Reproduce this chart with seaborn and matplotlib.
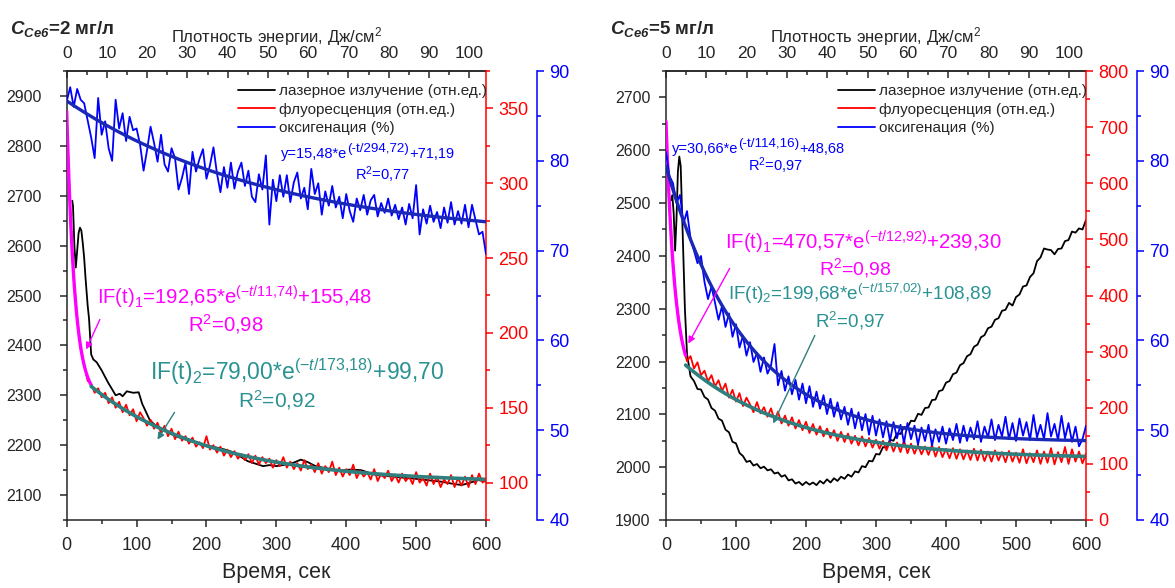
import numpy as np
import matplotlib
matplotlib.use("Agg")
import matplotlib.pyplot as plt
from matplotlib.ticker import MultipleLocator
from matplotlib.patches import FancyArrowPatch
import seaborn as sns

sns.set_theme(style="ticks")
plt.rcParams.update({
    "font.family": ["Liberation Sans", "DejaVu Sans"],
    "mathtext.fontset": "custom",
    "mathtext.rm": "Liberation Sans",
    "mathtext.it": "Liberation Sans:italic",
    "mathtext.bf": "Liberation Sans:italic:bold",
    "axes.linewidth": 1.1,
})

# ---------------------------------------------------------------- data
# common time grid for fluorescence and oxygenation records, s
TIME = np.arange(0, 601, 5)
# energy density delivered per second of irradiation, J/cm^2
E_PER_SEC = 100 / 576

# C(Ce6) = 2 mg/l
LASER_T_2 = [8, 9, 11, 13, 15, 17, 19, 21, 23, 25,
             27, 30, 32, 35, 38, 43, 50, 59, 65, 70,
             76, 80, 86, 95, 103, 108, 113, 119, 125, 132,
             140, 150, 160, 173, 185, 195, 205, 215, 227, 240,
             250, 259, 270, 281, 290, 300, 313, 325, 335, 345,
             356, 370, 389, 405, 421, 443, 460, 480, 497, 515,
             535, 551, 565, 573, 580, 589, 600]
LASER_V_2 = [2690, 2680, 2600, 2556, 2590, 2625, 2636, 2630, 2605, 2575,
             2534, 2480, 2453, 2382, 2372, 2366, 2350, 2326, 2312, 2300,
             2303, 2298, 2308, 2305, 2306, 2283, 2268, 2250, 2242, 2236,
             2230, 2222, 2216, 2210, 2205, 2200, 2198, 2195, 2191, 2185,
             2176, 2168, 2163, 2158, 2160, 2158, 2161, 2165, 2171, 2166,
             2158, 2154, 2149, 2151, 2150, 2140, 2138, 2135, 2133, 2130,
             2127, 2123, 2120, 2123, 2126, 2130, 2127]
FLUO_2 = [346, 282, 236, 210, 189, 179, 168, 166, 160, 163,
          157, 160, 153, 157, 150, 154, 147, 152, 145, 149,
          141, 147, 143, 138, 142, 136, 140, 133, 138, 131,
          136, 129, 134, 128, 131, 126, 130, 124, 127, 123,
          131, 122, 125, 120, 124, 118, 122, 117, 121, 116,
          119, 115, 119, 113, 118, 112, 117, 113, 116, 110,
          115, 111, 117, 110, 114, 109, 113, 108, 115, 109,
          112, 107, 113, 106, 111, 107, 114, 105, 110, 104,
          109, 105, 112, 103, 108, 104, 107, 102, 109, 101,
          106, 103, 108, 101, 105, 100, 106, 101, 104, 99,
          107, 100, 103, 98, 106, 99, 104, 97, 102, 99,
          105, 97, 103, 98, 104, 97, 105, 99, 106, 100,
          102]
OXY_2 = [86.6, 88.2, 86.0, 88.0, 86.8, 86.4, 84.5, 82.6, 80.3, 87.0,
         82.9, 84.4, 81.4, 80.0, 86.8, 83.6, 85.3, 82.2, 84.9, 83.4,
         83.6, 81.8, 78.9, 81.2, 83.8, 82.0, 79.9, 82.9, 79.6, 78.8,
         81.4, 80.3, 76.8, 78.1, 79.8, 76.3, 81.0, 78.8, 80.2, 81.3,
         78.0, 79.5, 81.5, 78.6, 76.5, 79.3, 77.0, 79.8, 76.9, 78.8,
         79.8, 77.2, 78.9, 76.0, 75.4, 78.5, 76.8, 80.6, 72.9, 77.9,
         75.5, 78.4, 76.0, 78.4, 75.4, 77.6, 78.7, 75.8, 77.0, 74.6,
         79.1, 76.3, 77.5, 74.0, 76.6, 75.0, 77.2, 74.8, 76.0, 73.6,
         76.3, 74.4, 73.2, 75.8, 74.5, 76.2, 74.0, 75.6, 76.2, 73.8,
         75.3, 74.2, 75.8, 73.9, 75.1, 73.5, 74.8, 72.9, 75.2, 73.6,
         77.3, 71.8, 74.6, 73.0, 75.0, 73.2, 74.3, 72.5, 74.8, 73.1,
         75.4, 72.9, 74.4, 73.0, 75.1, 72.6, 75.1, 73.4, 71.8, 72.1,
         69.6]

# C(Ce6) = 5 mg/l
LASER_T_5 = [7, 9, 11, 13, 15, 17, 19, 21, 23, 25, 27] + list(range(30, 601, 5))
LASER_V_5 = [2505, 2515, 2480, 2410, 2470, 2560, 2588, 2570, 2480, 2390, 2300,
             2215, 2172, 2163, 2148, 2147, 2133, 2128, 2112, 2107, 2092,
             2088, 2071, 2066, 2048, 2045, 2027, 2021, 2010, 2012, 2003,
             2006, 1998, 2001, 1994, 1996, 1988, 1990, 1982, 1985, 1975,
             1977, 1969, 1972, 1966, 1972, 1967, 1971, 1966, 1974, 1969,
             1977, 1971, 1979, 1974, 1982, 1978, 1986, 1982, 1992, 1990,
             2002, 2000, 2012, 2011, 2025, 2024, 2038, 2037, 2052, 2050,
             2064, 2063, 2076, 2075, 2088, 2087, 2101, 2099, 2112, 2113,
             2127, 2128, 2144, 2146, 2160, 2163, 2176, 2179, 2193, 2197,
             2210, 2214, 2228, 2232, 2246, 2250, 2263, 2266, 2279, 2282,
             2296, 2298, 2311, 2306, 2322, 2327, 2342, 2344, 2360, 2367,
             2390, 2397, 2414, 2412, 2411, 2403, 2413, 2414, 2428, 2430,
             2446, 2444, 2452, 2450, 2468]
FLUO_5 = [705, 560, 455, 388, 340, 305, 283, 292, 270, 281,
          258, 266, 247, 258, 238, 249, 230, 243, 218, 232,
          211, 226, 203, 218, 206, 192, 210, 190, 201, 184,
          199, 178, 193, 172, 186, 168, 183, 163, 178, 160,
          175, 155, 171, 152, 167, 149, 163, 146, 160, 141,
          157, 139, 154, 136, 150, 133, 149, 131, 146, 129,
          143, 127, 141, 124, 140, 122, 138, 121, 142, 119,
          136, 118, 133, 117, 131, 116, 134, 113, 130, 112,
          127, 110, 128, 109, 126, 108, 124, 107, 127, 106,
          125, 105, 122, 104, 124, 106, 121, 103, 123, 104,
          120, 102, 126, 101, 119, 103, 124, 100, 122, 102,
          128, 99, 121, 103, 130, 100, 126, 104, 122, 101,
          118]
OXY_5 = [81.0, 78.3, 77.5, 75.3, 76.2, 73.0, 74.4, 71.4, 70.0, 68.6,
         69.4, 66.5, 64.6, 66.0, 64.2, 62.3, 63.8, 61.5, 63.0, 60.4,
         61.8, 59.2, 60.5, 58.3, 59.8, 57.6, 58.6, 56.5, 58.1, 56.3,
         57.2, 59.6, 55.0, 56.6, 54.4, 56.0, 54.0, 55.6, 53.4, 55.2,
         53.0, 54.9, 52.6, 54.3, 52.4, 53.9, 51.8, 53.5, 51.5, 53.1,
         51.2, 52.6, 50.6, 52.4, 50.2, 52.0, 50.0, 51.8, 49.5, 51.6,
         49.4, 51.2, 49.2, 51.0, 48.8, 50.9, 49.1, 50.6, 48.6, 50.8,
         49.0, 50.5, 48.4, 50.3, 48.8, 50.6, 48.3, 50.1, 48.7, 50.4,
         48.5, 50.2, 48.9, 50.7, 48.6, 50.5, 48.8, 50.3, 49.0, 51.0,
         48.7, 50.4, 49.2, 51.2, 48.9, 50.6, 49.3, 51.5, 49.0, 50.8,
         48.8, 51.3, 49.4, 50.9, 48.9, 51.7, 49.2, 50.6, 49.0, 51.9,
         49.3, 50.7, 48.9, 51.6, 49.1, 50.8, 48.7, 50.4, 48.2, 49.0,
         50.5]

# exponential fits: (amplitude, tau, offset)
FIT_IF1_2, FIT_IF2_2, FIT_OXY_2 = (192.65, 11.74, 155.48), (79.00, 173.18, 99.70), (15.48, 294.72, 71.19)
FIT_IF1_5, FIT_IF2_5, FIT_OXY_5 = (470.57, 12.92, 239.30), (199.68, 157.02, 108.89), (30.66, 114.16, 48.68)
SWITCH_2, SWITCH_5 = 35, 28   # boundary between the fast and slow fluorescence fits, s

LEGEND = ["лазерное излучение (отн.ед.)", "флуоресценция (отн.ед.)", "оксигенация (%)"]

# ---------------------------------------------------------------- styling
W, H = 1175, 588
BLACK, RED, BLUE = "#000000", "#ff0000", "#0000ff"
MAGENTA, TEAL, TEAL_TXT, BLUE_FIT = "#ff00ff", "#2f7f7f", "#2a9292", "#1a28b8"

fig = plt.figure(figsize=(W / 100, H / 100), dpi=100)
renderer = fig.canvas.get_renderer()


def fxy(px, py):
    """Pixel position measured from the top-left corner -> figure fraction."""
    return px / W, 1 - py / H


def expfit(t, p):
    a, tau, c = p
    return a * np.exp(-t / tau) + c


def build_panel(rect, laser_t, laser_v, fluo, oxy, fit1, fit2, fitoxy, t_switch,
                left_lim, red_lim, red_major, red_minor, left_pad):
    ax = fig.add_axes(rect)
    ax_r = ax.twinx()
    ax_b = ax.twinx()

    sns.lineplot(x=laser_t, y=laser_v, ax=ax, color=BLACK, lw=1.3, label=LEGEND[0], legend=False)
    sns.lineplot(x=TIME, y=fluo, ax=ax_r, color=RED, lw=1.3, label=LEGEND[1], legend=False)
    t1 = np.linspace(0, t_switch, 80)
    t2 = np.linspace(t_switch, 600, 300)
    sns.lineplot(x=t1, y=expfit(t1, fit1), ax=ax_r, color=MAGENTA, lw=2.4, legend=False)
    sns.lineplot(x=t2, y=expfit(t2, fit2), ax=ax_r, color=TEAL, lw=2.6, legend=False)
    sns.lineplot(x=TIME, y=oxy, ax=ax_b, color=BLUE, lw=1.3, label=LEGEND[2], legend=False)
    tb = np.linspace(0, 600, 300)
    sns.lineplot(x=tb, y=expfit(tb, fitoxy), ax=ax_b, color=BLUE_FIT, lw=2.4, legend=False)

    for a in (ax, ax_r, ax_b):
        a.set_xlim(0, 600)
        a.set_xlabel("")
        a.set_ylabel("")

    # left axis (laser)
    ax.set_ylim(*left_lim)
    ax.yaxis.set_major_locator(MultipleLocator(100))
    ax.yaxis.set_minor_locator(MultipleLocator(50))
    ax.xaxis.set_major_locator(MultipleLocator(100))
    ax.xaxis.set_minor_locator(MultipleLocator(50))
    ax.tick_params(axis="y", which="major", direction="out", length=5, width=1.1, labelsize=11.5,
                   pad=left_pad)
    ax.tick_params(axis="x", which="major", direction="out", length=5, width=1.1, labelsize=13, pad=7)
    ax.tick_params(which="minor", direction="out", length=3, width=1.1)
    ax.tick_params(top=False, right=False, which="both")
    ax.spines["right"].set_visible(False)
    ax.set_xlabel("Время, сек", fontsize=15.5, labelpad=6)

    # right axis (fluorescence)
    ax_r.set_ylim(*red_lim)
    ax_r.yaxis.set_major_locator(MultipleLocator(red_major))
    ax_r.yaxis.set_minor_locator(MultipleLocator(red_minor))
    for s in ("left", "top", "bottom"):
        ax_r.spines[s].set_visible(False)
    ax_r.spines["right"].set_color(RED)
    ax_r.tick_params(axis="y", which="major", colors=RED, labelcolor=RED, length=5, width=1.1,
                     labelsize=13, pad=4)
    ax_r.tick_params(axis="y", which="minor", colors=RED, length=3, width=1.1)

    # outer right axis (oxygenation)
    ax_b.set_ylim(40, 90)
    ax_b.yaxis.set_major_locator(MultipleLocator(10))
    ax_b.yaxis.set_minor_locator(MultipleLocator(5))
    for s in ("left", "top", "bottom"):
        ax_b.spines[s].set_visible(False)
    ax_b.spines["right"].set_position(("axes", 1.121))
    ax_b.spines["right"].set_color(BLUE)
    ax_b.tick_params(axis="y", which="major", colors=BLUE, labelcolor=BLUE, length=5, width=1.1,
                     labelsize=13, pad=4)
    ax_b.tick_params(axis="y", which="minor", colors=BLUE, length=3, width=1.1)

    # top axis: energy density
    sec = ax.secondary_xaxis("top", functions=(lambda t: t * E_PER_SEC, lambda e: e / E_PER_SEC))
    sec.xaxis.set_major_locator(MultipleLocator(10))
    sec.xaxis.set_minor_locator(MultipleLocator(5))
    sec.tick_params(which="major", direction="in", length=5, width=1.1, labelsize=12.5, pad=7)
    sec.tick_params(which="minor", direction="in", length=3, width=1.1)
    sec.set_xlabel("Плотность энергии, Дж/см$^2$", fontsize=12, labelpad=3)

    handles = [ax.lines[0], ax_r.lines[0], ax_b.lines[0]]
    ax_b.legend(handles, LEGEND, loc="upper right", bbox_to_anchor=(1.033, 1.0), frameon=False,
                fontsize=11, handlelength=2.4, handletextpad=0.25, labelspacing=0.3,
                borderaxespad=0.6, borderpad=0.25)
    return ax, ax_r, ax_b


def note(px, py, s, color, size, ha="left"):
    fig.text(*fxy(px, py), s, color=color, fontsize=size, ha=ha, va="center")


def rich(px, py, parts, color, size):
    """Write text pieces one after another; each piece is (text, rise_px, scale)."""
    base = py + 0.36 * size * 100 / 72
    x = px
    for s, rise, scale in parts:
        t = fig.text(x / W, 1 - (base - rise) / H, s, color=color, fontsize=size * scale,
                     ha="left", va="baseline")
        x += t.get_window_extent(renderer).width


def arrow(p_from, p_to, color):
    fig.add_artist(FancyArrowPatch(
        fxy(*p_from), fxy(*p_to), transform=fig.transFigure, arrowstyle="-|>",
        mutation_scale=10, color=color, lw=1.0))


def num(v):
    return f"{v:.2f}".replace(".", ",")


def fmt_fit(prefix, p):
    a, tau, c = (num(v) for v in p)
    return prefix + a + "*e$^{(-t/" + tau.replace(",", "{,}") + ")}$+" + c


def fit_parts(p):
    a, tau, c = (num(v) for v in p)
    return [("y=" + a + "*e", 0, 1.0), ("(-t/" + tau + ")", 6, 0.92), ("+" + c, 0, 1.0)]


def fmt_r2(v):
    return "R$^2$=" + num(v)


# ---------------------------------------------------------------- panels
build_panel([66.7 / W, 1 - 520 / H, 419.3 / W, 449 / H], LASER_T_2, LASER_V_2, FLUO_2, OXY_2,
            FIT_IF1_2, FIT_IF2_2, FIT_OXY_2, SWITCH_2, (2050, 2950), (75, 375), 50, 25, 13)
build_panel([666 / W, 1 - 520 / H, 420 / W, 449 / H], LASER_T_5, LASER_V_5, FLUO_5, OXY_5,
            FIT_IF1_5, FIT_IF2_5, FIT_OXY_5, SWITCH_5, (1900, 2750), (0, 800), 100, 50, 6)

# panel titles
fig.text(*fxy(10, 29), r"$\mathbf{C}_{\mathbf{Ce6}}$=2 мг/л", fontsize=13.5, fontweight="bold", va="center")
fig.text(*fxy(610, 29), r"$\mathbf{C}_{\mathbf{Ce6}}$=5 мг/л", fontsize=13.5, fontweight="bold", va="center")

# fit annotations, 2 mg/l
rich(281, 153, fit_parts(FIT_OXY_2), BLUE, 10.5)
note(355, 175, fmt_r2(0.77), BLUE, 10.5)
note(97, 297, fmt_fit("IF(t)$_1$=", FIT_IF1_2), MAGENTA, 14.6)
note(226, 324, fmt_r2(0.98), MAGENTA, 14.6, ha="center")
arrow((101, 317), (85, 352), MAGENTA)
note(150, 372, fmt_fit("IF(t)$_2$=", FIT_IF2_2), TEAL_TXT, 16.5)
note(277, 400, fmt_r2(0.92), TEAL_TXT, 15, ha="center")
arrow((176, 410), (156, 442), TEAL)

# fit annotations, 5 mg/l
rich(672, 148, fit_parts(FIT_OXY_5), BLUE, 10.5)
note(748, 166, fmt_r2(0.97), BLUE, 10.5)
note(725, 242, fmt_fit("IF(t)$_1$=", FIT_IF1_5), MAGENTA, 14.7)
note(855, 268, fmt_r2(0.98), MAGENTA, 14, ha="center")
arrow((731, 266), (687, 346), MAGENTA)
note(728, 294, fmt_fit("IF(t)$_2$=", FIT_IF2_5), TEAL_TXT, 13.6)
note(850, 321, fmt_r2(0.97), TEAL_TXT, 13.6, ha="center")
arrow((816, 333), (772, 426), TEAL)

fig.savefig("out.png", dpi=100)
